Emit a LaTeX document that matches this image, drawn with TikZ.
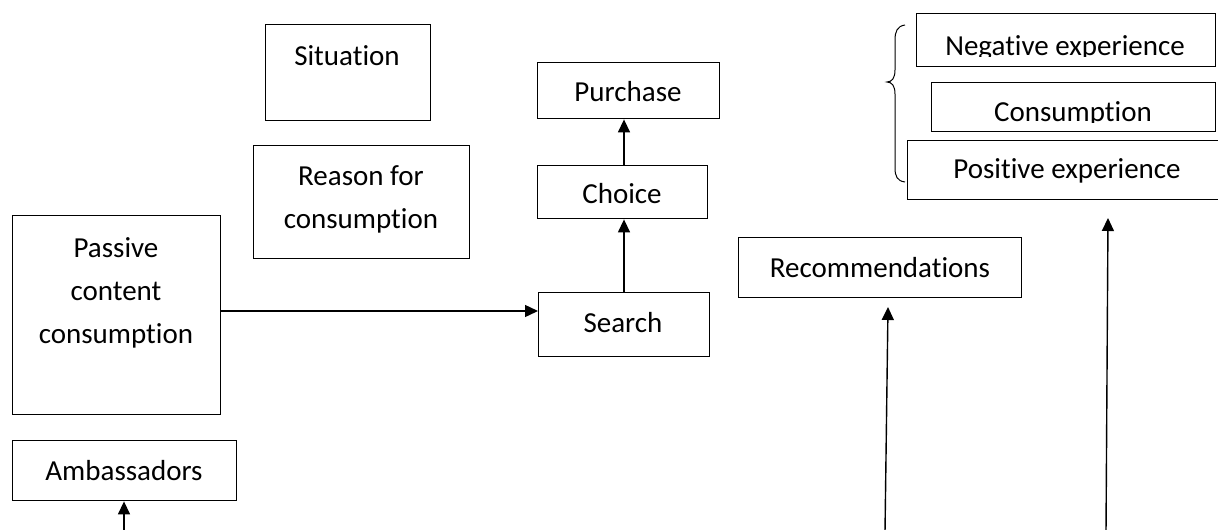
\documentclass[tikz,border=0pt]{standalone}
\usepackage{fontspec}
\setmainfont{Carlito}[Ligatures={NoCommon}]
\usetikzlibrary{arrows.meta}
\begin{document}
\begin{tikzpicture}[x=1pt,y=-1pt,
  box/.style={draw, line width=1.4pt, inner sep=0pt, anchor=north west},
  txt/.style={font=\fontsize{29}{43}\selectfont, inner sep=0pt, align=center},
  arr/.style={line width=1.4pt, -{Triangle[length=13pt,width=12pt]}}]
\clip (0,0) rectangle (1218,530);
\fill[white] (0,0) rectangle (1218,530);
% boxes
\node[box, minimum width=165pt, minimum height=96pt] (sit) at (265,24) {};
\node[box, minimum width=216pt, minimum height=113pt] (reason) at (253,145) {};
\node[box, minimum width=182pt, minimum height=56pt] (purchase) at (537,62) {};
\node[box, minimum width=170pt, minimum height=53pt] (choice) at (537,165) {};
\node[box, minimum width=171pt, minimum height=64pt] (search) at (538,292) {};
\node[box, minimum width=208pt, minimum height=199pt] (passive) at (12,215) {};
\node[box, minimum width=224pt, minimum height=60pt] (amb) at (12,440) {};
\node[box, minimum width=283pt, minimum height=60pt] (rec) at (738,237) {};
\node[box, minimum width=299pt, minimum height=53pt] (neg) at (916,13) {};
\node[box, minimum width=284pt, minimum height=49pt] (cons) at (931,82) {};
\node[box, minimum width=340pt, minimum height=59pt] (pos) at (907,140) {};
% texts
\node[txt, anchor=base] (tsit) at (347,65) {Situation};
\node[txt] (treason) at (361,199) {Reason for\\consumption};
\node[txt, anchor=base] (tpur) at (628,101) {Purchase};
\node[txt, anchor=base] (tcho) at (622,203) {Choice};
\node[txt, anchor=base] (tsea) at (623,332) {Search};
\node[txt] (tpas) at (116,292.5) {Passive\\content\\consumption};
\node[txt, anchor=base] (tamb) at (124,480) {Ambassadors};
\node[txt, anchor=base] (trec) at (880,277) {Recommendations};
\begin{scope}
  \clip (neg.north west) rectangle (neg.east |- 0,56.5);
  \node[txt, anchor=base] (tneg) at (1065,55) {Negative experience};
\end{scope}
\begin{scope}
  \clip (cons.north west) rectangle (cons.east |- 0,122.5);
  \node[txt, anchor=base] (tcons) at (1073,121) {Consumption};
\end{scope}
\node[txt, anchor=base] (tpos) at (1067,178) {Positive experience};
% brace
\draw[line width=1pt] (905,25) .. controls (897,26) and (895,32) .. (895,40)
  -- (895,70) .. controls (895,78) and (892,82) .. (887,82)
  .. controls (892,82) and (895,86) .. (895,94)
  -- (895,168) .. controls (895,176) and (897,181) .. (905,182);
% connectors
\coordinate (ambfoot) at (124,532);
\coordinate (recfoot) at (885,532);
\coordinate (rectip) at (888,307);
\coordinate (posfoot) at (1106,532);
\coordinate (postip) at (1108,218);
\draw[arr] (passive.east |- 0,311) -- (search.west |- 0,311);
\draw[arr] (search.north -| 624,0) -- (choice.south -| 624,0);
\draw[arr] (choice.north -| 624,0) -- (purchase.south -| 624,0);
\draw[arr] (ambfoot) -- (amb.south -| ambfoot);
\draw[arr] (recfoot) -- (rectip);
\draw[arr] (posfoot) -- (postip);
\end{tikzpicture}
\end{document}
